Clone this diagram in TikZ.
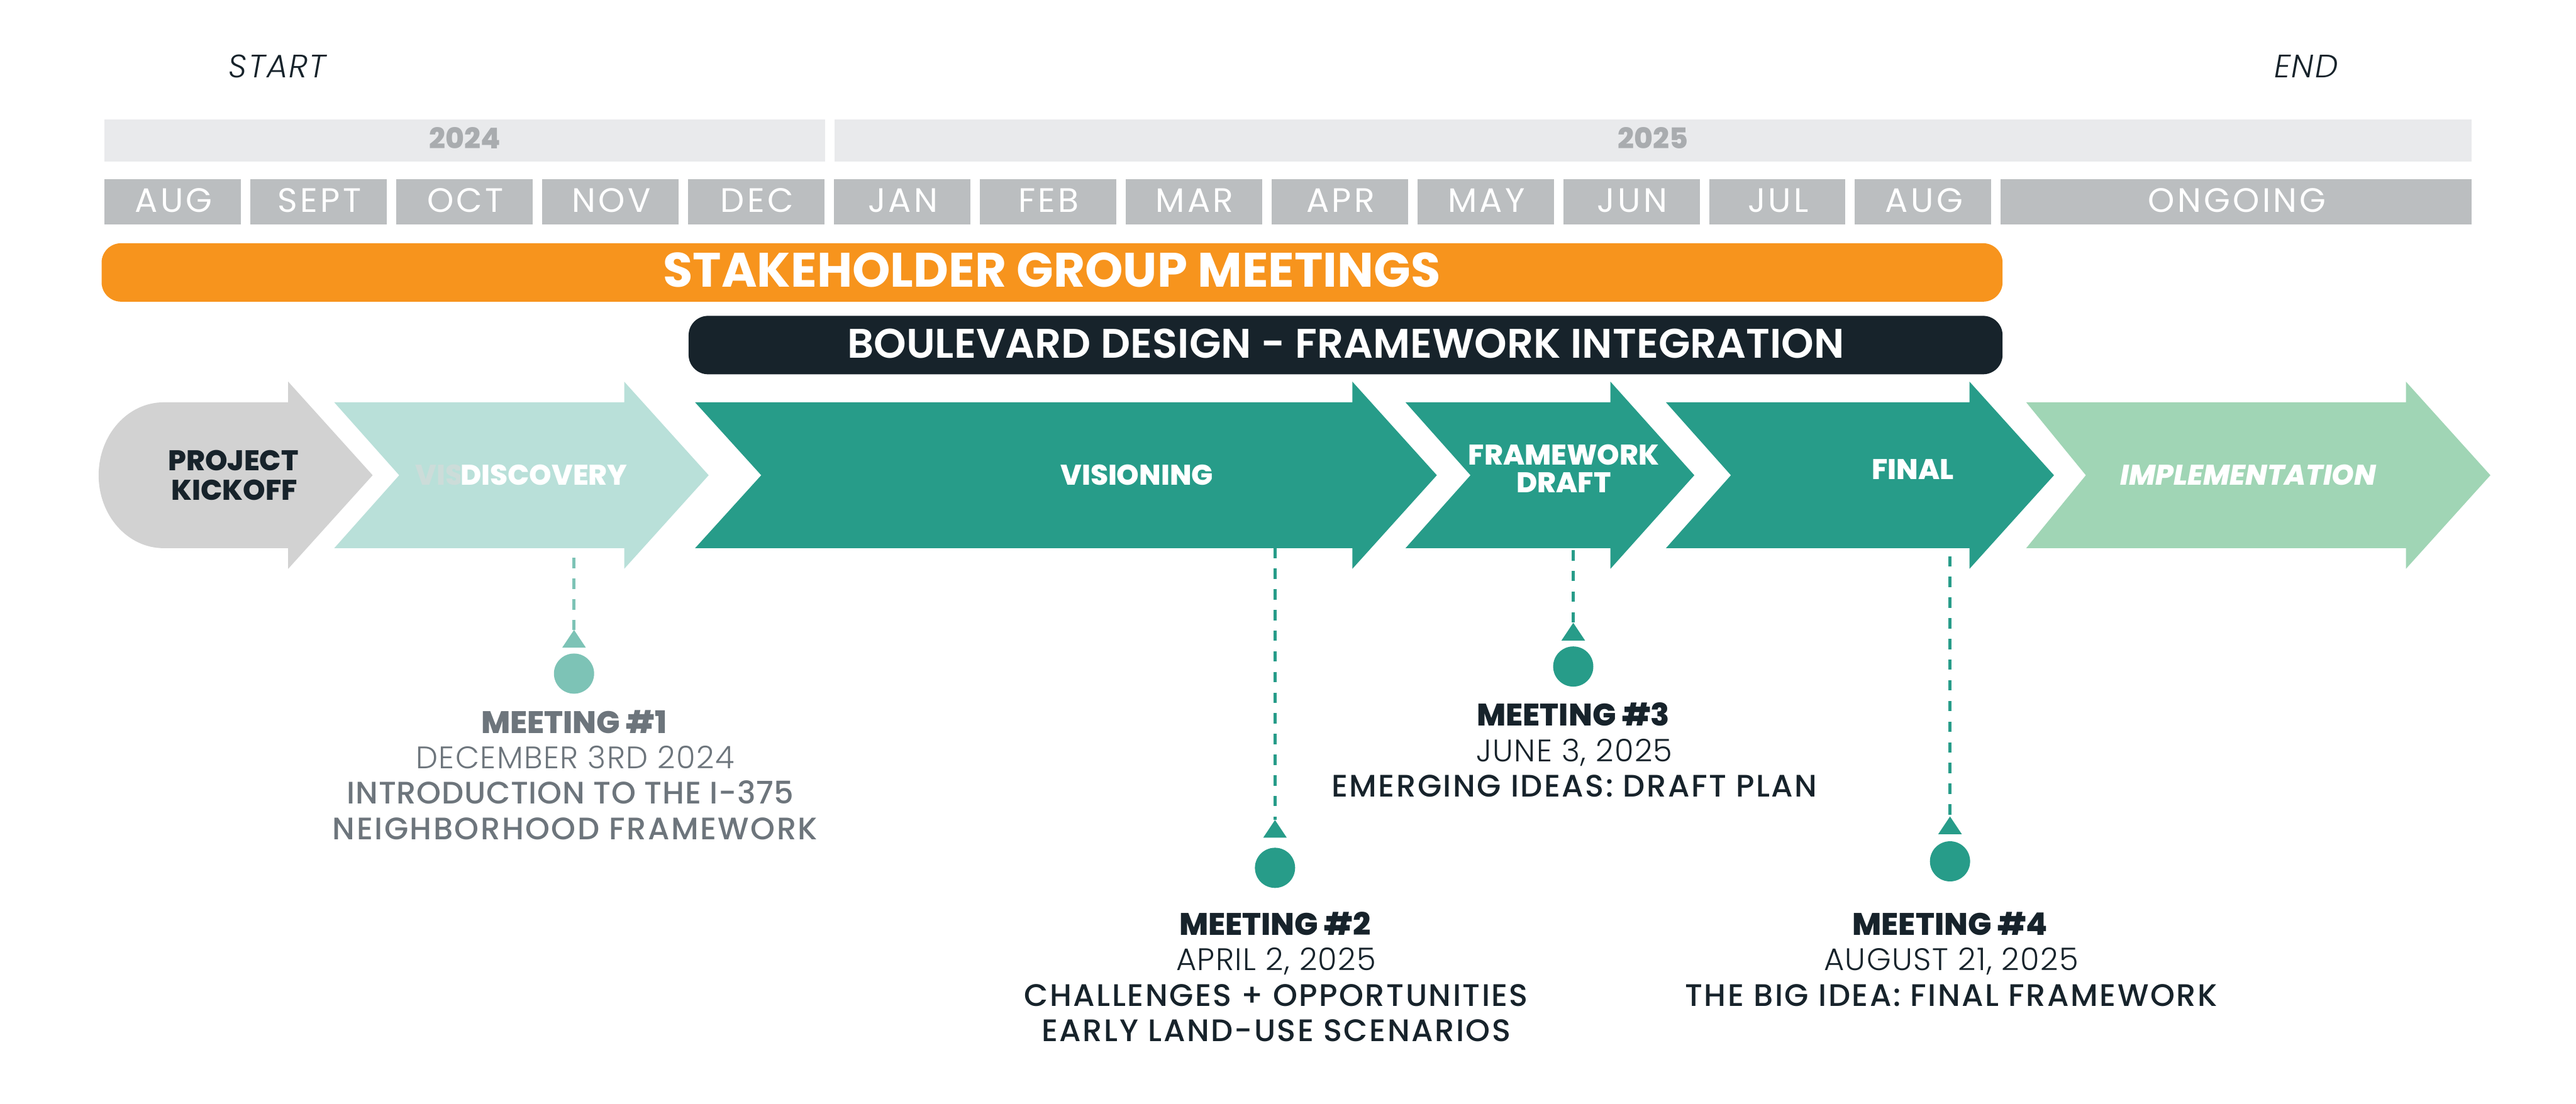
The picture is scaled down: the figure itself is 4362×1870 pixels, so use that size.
\documentclass[tikz,border=0pt]{standalone}
\usepackage{fontspec}
\setmainfont{Poppins}
\newfontfamily\fLight{Poppins Light}
\newfontfamily\fMed{Poppins Medium}
\newfontfamily\fSemi{Poppins SemiBold}
\newfontfamily\fBold{Poppins Bold}
\newfontfamily\fXB{Poppins ExtraBold}
\definecolor{yearbar}{HTML}{E9EAEC}
\definecolor{yeartxt}{HTML}{A9ACAF}
\definecolor{monthgray}{HTML}{BBBEC0}
\definecolor{orangebar}{HTML}{F7941D}
\definecolor{darkbar}{HTML}{17232B}
\definecolor{kickgray}{HTML}{D2D2D2}
\definecolor{discteal}{HTML}{B9E0D9}
\definecolor{mainteal}{HTML}{279C89}
\definecolor{implgreen}{HTML}{A0D5B5}
\definecolor{mlight}{HTML}{7DC3B6}
\definecolor{ghost}{HTML}{CCDCD9}
\definecolor{m1gray}{HTML}{6D757C}
\begin{document}
\begin{tikzpicture}[x=0.01cm,y=0.01cm,
  lbl/.style={inner sep=0,anchor=base},
  startend/.style={lbl,text=darkbar,font=\fLight\itshape\fontsize{15.6}{16}\selectfont\addfontfeatures{LetterSpace=4}},
  yearlbl/.style={lbl,text=yeartxt,font=\fXB\fontsize{13.8}{14}\selectfont},
  monthlbl/.style={lbl,text=white,font=\fontsize{16.3}{17}\selectfont\addfontfeatures{LetterSpace=8}},
  barlbl/.style={lbl,text=white,font=\fBold\fontsize{23.3}{24}\selectfont},
  darklbl/.style={lbl,text=white,font=\fSemi\fontsize{19.9}{21}\selectfont},
  phaselbl/.style={lbl,text=white,font=\fXB\fontsize{13.7}{14}\selectfont},
  mtitle/.style={lbl,font=\fXB\fontsize{15}{16}\selectfont},
  mdate/.style={lbl,font=\fLight\fontsize{15}{16}\selectfont\addfontfeatures{LetterSpace=3}},
  mdesc/.style={lbl,font=\fMed\fontsize{15}{16}\selectfont\addfontfeatures{LetterSpace=5}},
  dashline/.style={line width=0.55mm,dash pattern=on 1.75mm off 1.75mm},
  dot/.style={circle,minimum size=6.8mm,inner sep=0}]
\useasboundingbox (0,0) rectangle (4362,-1870);
\fill[white] (0,0) rectangle (4362,-1870);

% START / END
\node[startend] (start) at (470,-131) {START};
\node[startend] (end) at (3905,-131) {END};

% years
\fill[yearbar] (177,-202) rectangle (1397,-274);
\fill[yearbar] (1413,-202) rectangle (4185,-274);
\node[yearlbl] (y24) at (787,-252) {2024};
\node[yearlbl] (y25) at (2799,-252) {2025};

% months
\foreach \m [count=\i from 0] in {AUG,SEPT,OCT,NOV,DEC,JAN,FEB,MAR,APR,MAY,JUN,JUL,AUG}{
  \pgfmathsetmacro\xa{177+247*\i}
  \fill[monthgray] (\xa,-303) rectangle ++(231,-77);
  \node[monthlbl] (mon\i) at (\xa+117,-359) {\m};
}
\fill[monthgray] (3388,-303) rectangle (4185,-380);
\node[monthlbl] (ongoing) at (3788,-359) {ONGOING};

% bars
\fill[orangebar,rounded corners=3.3mm] (172,-412) rectangle (3391,-511);
\node[barlbl] (stake) at (1781,-486) {STAKEHOLDER GROUP MEETINGS};
\fill[darkbar,rounded corners=3.3mm] (1166,-535) rectangle (3391,-634);
\node[darklbl] (blvd) at (2279,-606) {BOULEVARD DESIGN - FRAMEWORK INTEGRATION};

% chevrons
\fill[kickgray] (488,-681.5) -- (488,-646.5) -- (631,-805) -- (488,-963.5) -- (488,-928.5) -- (277,-928.5)
  arc[start angle=270,end angle=90,x radius=110,y radius=123.5] -- cycle;
\foreach \L/\N/\B/\T/\c in {566/676/1057/1200/discteal,1177/1289/2290/2433/mainteal,2380/2490/2727/2869/mainteal,2821/2931/3335/3478/mainteal,3431/3532/4074/4217/implgreen}{
  \fill[\c] (\L,-681.5) -- (\B,-681.5) -- (\B,-646.5) -- (\T,-805) -- (\B,-963.5) -- (\B,-928.5) -- (\L,-928.5) -- (\N,-805) -- cycle;
}
\node[phaselbl,text=darkbar] (kick1) at (395,-797) {PROJECT};
\node[phaselbl,text=darkbar] (kick2) at (397,-847) {KICKOFF};
\node[phaselbl,text=ghost,anchor=base west] (ghostvis) at (703,-822) {VIS};
\node[phaselbl,fill=discteal,inner xsep=0pt] (disc) at (921,-822) {DISCOVERY};
\node[phaselbl] (vision) at (1925,-822) {VISIONING};
\node[phaselbl] (fw1) at (2648,-788) {FRAMEWORK};
\node[phaselbl] (fw2) at (2648,-834) {DRAFT};
\node[phaselbl] (final) at (3239,-812) {FINAL};
\node[phaselbl,font=\fXB\itshape\fontsize{13.7}{14}\selectfont] (impl) at (3807,-822) {IMPLEMENTATION};

% meeting markers
\coordinate (m1top) at (972,-945);   \coordinate (m1apex) at (972,-1067);
\coordinate (m2top) at (2159,-928);  \coordinate (m2apex) at (2159,-1389);
\coordinate (m3top) at (2664,-932);  \coordinate (m3apex) at (2664,-1055);
\coordinate (m4top) at (3302,-942);  \coordinate (m4apex) at (3302,-1383);
\draw[dashline,mlight] (m1top) -- (m1apex);
\draw[dashline,mainteal] (m2top) -- (m2apex);
\draw[dashline,mainteal] (m3top) -- (m3apex);
\draw[dashline,mainteal] (m4top) -- (m4apex);
\fill[mlight] (m1apex) -- ++(-20,-30) -- ++(40,0) -- cycle;
\fill[mainteal] (m2apex) -- ++(-20,-30) -- ++(40,0) -- cycle;
\fill[mainteal] (m3apex) -- ++(-20,-30) -- ++(40,0) -- cycle;
\fill[mainteal] (m4apex) -- ++(-20,-30) -- ++(40,0) -- cycle;
\node[dot,fill=mlight] (m1dot) at (972,-1141) {};
\node[dot,fill=mainteal] (m2dot) at (2159,-1470) {};
\node[dot,fill=mainteal] (m3dot) at (2664,-1129) {};
\node[dot,fill=mainteal] (m4dot) at (3302,-1459) {};

% meeting texts
\node[mtitle,text=m1gray] (m1a) at (972,-1242) {MEETING \#1};
\node[mdate,text=m1gray] (m1b) at (974,-1302) {DECEMBER 3RD 2024};
\node[mdesc,text=m1gray,font=\fMed\fontsize{15}{16}\selectfont\addfontfeatures{LetterSpace=1.5}] (m1c) at (966,-1362) {INTRODUCTION TO THE I-375};
\node[mdesc,text=m1gray] (m1d) at (974,-1422) {NEIGHBORHOOD FRAMEWORK};

\node[mtitle,text=darkbar] (m2a) at (2159,-1584) {MEETING \#2};
\node[mdate,text=darkbar] (m2b) at (2161,-1644) {APRIL 2, 2025};
\node[mdesc,text=darkbar] (m2c) at (2161,-1704) {CHALLENGES + OPPORTUNITIES};
\node[mdesc,text=darkbar] (m2d) at (2161,-1764) {EARLY LAND-USE SCENARIOS};

\node[mtitle,text=darkbar] (m3a) at (2664,-1230) {MEETING \#3};
\node[mdate,text=darkbar] (m3b) at (2666,-1290) {JUNE 3, 2025};
\node[mdesc,text=darkbar] (m3c) at (2666,-1350) {EMERGING IDEAS: DRAFT PLAN};

\node[mtitle,text=darkbar] (m4a) at (3302,-1584) {MEETING \#4};
\node[mdate,text=darkbar] (m4b) at (3304,-1644) {AUGUST 21, 2025};
\node[mdesc,text=darkbar] (m4c) at (3304,-1704) {THE BIG IDEA: FINAL FRAMEWORK};
\end{tikzpicture}
\end{document}
